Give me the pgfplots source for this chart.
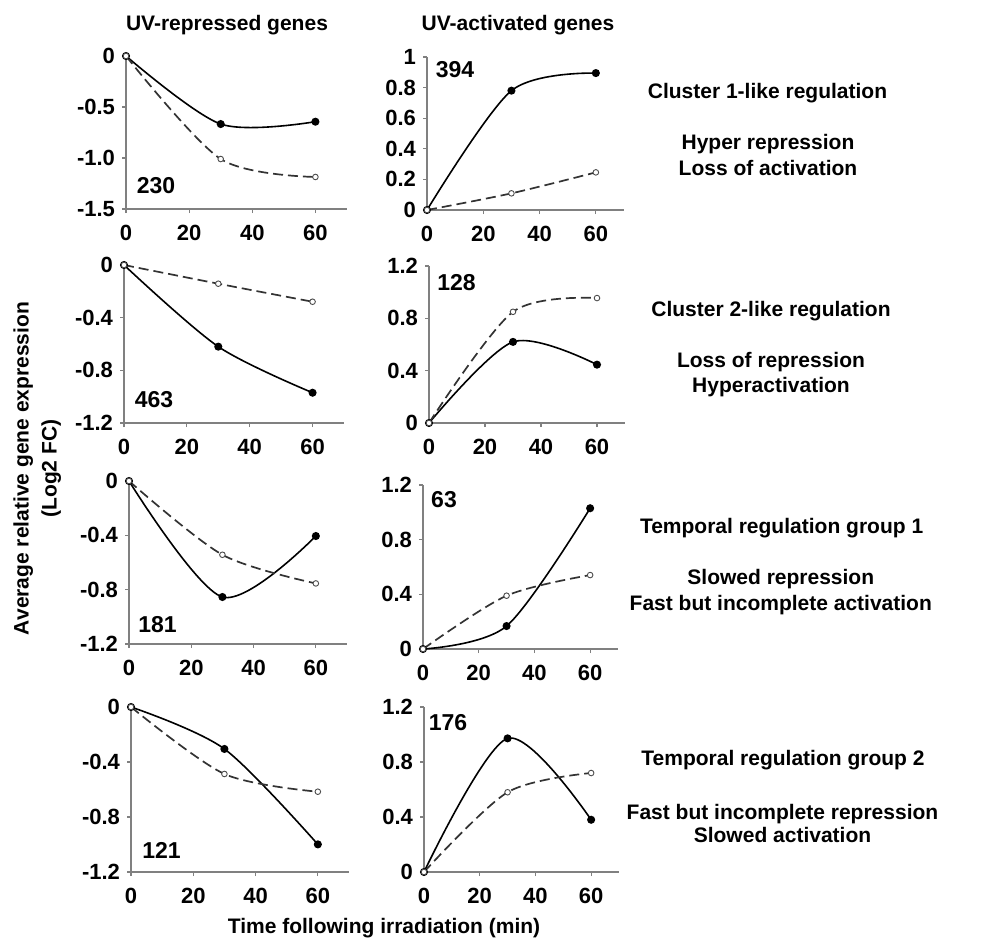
\documentclass[border=0pt]{standalone}
\usepackage{fontspec}
\setmainfont{Liberation Sans}
\usepackage{pgfplots}
\pgfplotsset{compat=1.18}

\pgfplotsset{
  panel/.style={
    scale only axis, anchor=south west,
    xmin=0, xmax=70,
    xtick={0,20,40,60}, xticklabels={0,20,40,60},
    axis x line*=bottom, axis y line*=left,
    axis line style={gray, line width=0.7pt},
    tick style={gray, line width=0.6pt},
    tick align=outside, major tick length=2pt,
    clip=false,
    ticklabel style={font=\bfseries\fontsize{11}{13}\selectfont},
    xticklabel style={yshift=-2.5pt},
  },
  solidser/.style={black, line width=0.8pt, smooth, mark=*, mark size=1.6pt,
    mark options={solid, fill=black}},
  dashser/.style={black!80, line width=0.85pt, smooth, dash pattern=on 5pt off 2.5pt,
    mark=*, mark size=1.4pt, mark options={solid, fill=white, draw=black!70, line width=0.45pt}},
  repaxis/.style={ymin=-1.2, ymax=0, ytick={-1.2,-0.8,-0.4,0}, yticklabels={-1.2,-0.8,-0.4,0}},
  actaxis/.style={ymin=0, ymax=1.2, ytick={0,0.4,0.8,1.2}, yticklabels={0,0.4,0.8,1.2}},
}

\begin{document}
\begin{tikzpicture}[
  txt/.style={font=\bfseries\fontsize{10.5}{12}\selectfont, inner sep=0pt,
    text height=0.72em, text depth=0pt, anchor=center},
  num/.style={font=\bfseries\fontsize{11.5}{13}\selectfont, inner sep=0pt,
    text height=0.72em, text depth=0pt, anchor=center}]
\useasboundingbox (0,0) rectangle (498.5pt,-469pt);

%% row 1
\begin{axis}[panel, at={(63pt,-104.5pt)}, width=110.5pt, height=76.5pt,
  ymin=-1.5, ymax=0, ytick={-1.5,-1,-0.5,0}, yticklabels={-1.5,-1.0,-0.5,0}]
\addplot[solidser] coordinates {(0,0)(30,-0.667)(60,-0.644)};
\addplot[dashser] coordinates {(0,0)(30,-1.01)(60,-1.186)};
\end{axis}
\begin{axis}[panel, at={(213.5pt,-105pt)}, width=98.5pt, height=76.5pt,
  ymin=0, ymax=1, ytick={0,0.2,0.4,0.6,0.8,1}, yticklabels={0,0.2,0.4,0.6,0.8,1}]
\addplot[solidser] coordinates {(0,0)(30,0.78)(60,0.895)};
\addplot[dashser] coordinates {(0,0)(30,0.109)(60,0.246)};
\end{axis}

%% row 2
\begin{axis}[panel, repaxis, at={(62pt,-211.5pt)}, width=110pt, height=79pt]
\addplot[solidser] coordinates {(0,0)(30,-0.62)(60,-0.97)};
\addplot[dashser] coordinates {(0,0)(30,-0.142)(60,-0.279)};
\end{axis}
\begin{axis}[panel, actaxis, at={(214.5pt,-211.5pt)}, width=98pt, height=78.5pt]
\addplot[solidser] coordinates {(0,0)(30,0.62)(60,0.446)};
\addplot[dashser] coordinates {(0,0)(30,0.85)(60,0.955)};
\end{axis}

%% row 3
\begin{axis}[panel, repaxis, at={(64.5pt,-322pt)}, width=109pt, height=81.5pt]
\addplot[solidser] coordinates {(0,0)(30,-0.854)(60,-0.405)};
\addplot[dashser] coordinates {(0,0)(30,-0.543)(60,-0.754)};
\end{axis}
\begin{axis}[panel, actaxis, at={(211.5pt,-324.5pt)}, width=97.5pt, height=82pt]
\addplot[solidser] coordinates {(0,0)(30,0.168)(60,1.03)};
\addplot[dashser] coordinates {(0,0)(30,0.39)(60,0.541)};
\end{axis}

%% row 4
\begin{axis}[panel, repaxis, at={(65.5pt,-436pt)}, width=109pt, height=82.5pt]
\addplot[solidser] coordinates {(0,0)(30,-0.305)(60,-0.999)};
\addplot[dashser] coordinates {(0,0)(30,-0.487)(60,-0.616)};
\end{axis}
\begin{axis}[panel, actaxis, at={(212pt,-436pt)}, width=97.5pt, height=82.5pt]
\addplot[solidser] coordinates {(0,0)(30,0.972)(60,0.38)};
\addplot[dashser] coordinates {(0,0)(30,0.58)(60,0.72)};
\end{axis}

%% column titles
\node[txt] at (113.5pt,-11.5pt) {UV-repressed genes};
\node[txt] at (259pt,-11.5pt) {UV-activated genes};

%% gene counts
\node[num] at (78pt,-93.3pt) {230};
\node[num] at (227.5pt,-35pt) {394};
\node[num] at (77pt,-200.3pt) {463};
\node[num] at (228.3pt,-141.7pt) {128};
\node[num] at (78.75pt,-312.5pt) {181};
\node[num] at (222pt,-250pt) {63};
\node[num] at (80.8pt,-425.5pt) {121};
\node[num] at (224pt,-361.7pt) {176};

%% descriptions
\node[txt] at (383.75pt,-45.8pt) {Cluster 1-like regulation};
\node[txt] at (384pt,-71.3pt) {Hyper repression};
\node[txt] at (384pt,-84pt) {Loss of activation};
\node[txt] at (385.5pt,-154.7pt) {Cluster 2-like regulation};
\node[txt] at (385.5pt,-180pt) {Loss of repression};
\node[txt] at (385.5pt,-192.5pt) {Hyperactivation};
\node[txt] at (390.8pt,-263.3pt) {Temporal regulation group 1};
\node[txt] at (390.4pt,-288.7pt) {Slowed repression};
\node[txt] at (390.4pt,-301.7pt) {Fast but incomplete activation};
\node[txt] at (391.5pt,-379.2pt) {Temporal regulation group 2};
\node[txt] at (391.25pt,-406pt) {Fast but incomplete repression};
\node[txt] at (391.25pt,-417.8pt) {Slowed activation};

%% axis titles
\node[txt, rotate=90] at (10.75pt,-234.25pt) {Average relative gene expression};
\node[txt, rotate=90] at (24.75pt,-234.25pt) {(Log2 FC)};
\node[txt] at (192pt,-463.3pt) {Time following irradiation (min)};
\end{tikzpicture}
\end{document}
